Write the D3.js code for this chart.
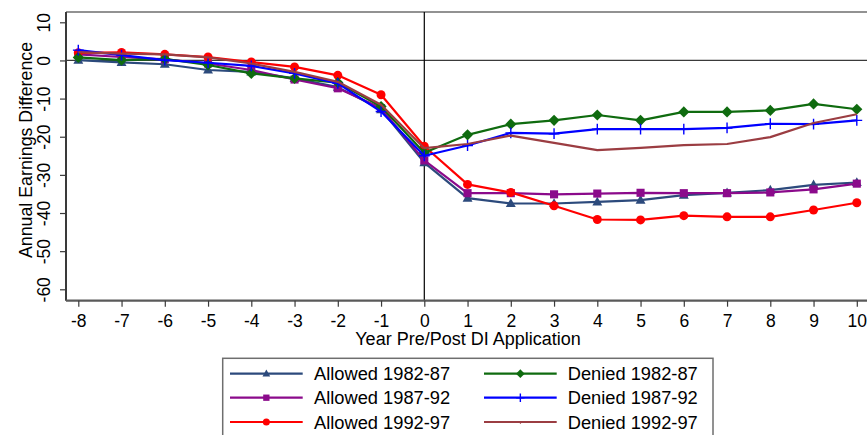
<!DOCTYPE html>
<html>
<head>
<meta charset="utf-8">
<script src="https://cdn.jsdelivr.net/npm/d3@7"></script>
<style>
  body { margin: 0; background: #fff; }
  svg { display: block; font-family: "Liberation Sans", Arial, sans-serif; }
</style>
</head>
<body>
<svg id="chart" width="867" height="435"></svg>
<script>
// ---- Data ----
const years = [-8, -7, -6, -5, -4, -3, -2, -1, 0, 1, 2, 3, 4, 5, 6, 7, 8, 9, 10];
const allowed8287 = [0.1, -0.5, -1.0, -2.5, -3.0, -4.7, -7.0, -12.9, -26.8, -36.1, -37.5, -37.5, -37.1, -36.6, -35.3, -34.7, -34.0, -32.6, -32.0];
const allowed8792 = [1.6, 0.9, 0.3, -0.8, -2.5, -5.0, -7.3, -12.5, -26.2, -34.8, -34.8, -35.1, -34.9, -34.7, -34.8, -34.8, -34.6, -33.8, -32.3];
const allowed9297 = [2.0, 2.1, 1.6, 0.9, -0.4, -1.7, -3.9, -9.0, -22.5, -32.5, -34.6, -38.1, -41.7, -41.8, -40.7, -41.0, -41.0, -39.2, -37.3];
const denied8287 = [0.8, 0.1, 0.4, -1.2, -3.4, -4.7, -5.8, -12.1, -24.2, -19.5, -16.7, -15.7, -14.3, -15.7, -13.5, -13.5, -13.1, -11.4, -12.8];
const denied8792 = [2.7, 1.4, 0.1, -0.6, -1.4, -3.4, -6.0, -13.4, -25.0, -22.3, -19.0, -19.2, -18.0, -18.0, -18.0, -17.7, -16.6, -16.7, -15.7];
const denied9297 = [2.2, 1.8, 1.6, 0.8, -0.8, -3.0, -5.6, -11.6, -23.0, -21.9, -19.7, -21.6, -23.5, -22.9, -22.2, -21.9, -20.1, -16.4, -14.1];
const seriesNames = ["Allowed 1982-87", "Allowed 1987-92", "Allowed 1992-97", "Denied 1982-87", "Denied 1987-92", "Denied 1992-97"];
const xTicks = [-8, -7, -6, -5, -4, -3, -2, -1, 0, 1, 2, 3, 4, 5, 6, 7, 8, 9, 10];
const yTicks = [-60, -50, -40, -30, -20, -10, 0, 10];
const xTitle = "Year Pre/Post DI Application";
const yTitle = "Annual Earnings Difference";

const seriesValues = [allowed8287, allowed8792, allowed9297, denied8287, denied8792, denied9297];
const seriesColors = ["#2c4a7c", "#8b0a8b", "#ff0000", "#0f6b0f", "#0000ff", "#9b3d42"];
const seriesMarkers = ["triangle", "square", "circle", "diamond", "plus", "none"];

// ---- Layout ----
const svg = d3.select("#chart");
const plotL = 66, plotT = 12, plotR = 867, plotB = 300.7;
const x = d3.scaleLinear().domain([-8, 10]).range([78.3, 856.8]);
const y = d3.scaleLinear().domain([-60, 10]).range([289.3, 22.3]);
const fmt = d => String(d);

// frame
svg.append("line").attr("x1", plotL).attr("x2", plotR).attr("y1", plotT).attr("y2", plotT)
  .attr("stroke", "#6e6e6e").attr("stroke-width", 1.5);

// zero line & vertical line at 0
svg.append("line").attr("x1", plotL).attr("x2", plotR).attr("y1", y(0)).attr("y2", y(0))
  .attr("stroke", "#3a3a3a").attr("stroke-width", 1.2);
svg.append("line").attr("x1", x(0)).attr("x2", x(0)).attr("y1", plotT).attr("y2", plotB)
  .attr("stroke", "#000").attr("stroke-width", 1.2);

// axes
const yAxis = d3.axisLeft(y).tickValues(yTicks).tickSize(6).tickPadding(4).tickFormat(fmt);
const gy = svg.append("g").attr("transform", `translate(${plotL},0)`).call(yAxis);
gy.select(".domain").attr("d", `M0,${plotT}V${plotB}`).attr("stroke", "#3a3a3a").attr("stroke-width", 2);
gy.selectAll(".tick line").attr("stroke", "#3a3a3a").attr("stroke-width", 1.2);
gy.selectAll(".tick text")
  .attr("font-size", 17.5).attr("fill", "#000")
  .attr("text-anchor", "middle")
  .attr("x", 0).attr("dy", 0)
  .attr("transform", "translate(-16,0) rotate(-90)")
  .attr("y", 0);

const xAxis = d3.axisBottom(x).tickValues(xTicks).tickSize(6).tickFormat(fmt);
const gx = svg.append("g").attr("transform", `translate(0,${plotB})`).call(xAxis);
gx.select(".domain").attr("d", `M${plotL},0H${plotR}`).attr("stroke", "#5a5a5a").attr("stroke-width", 2.2);
gx.selectAll(".tick line").attr("stroke", "#3a3a3a").attr("stroke-width", 1.2);
gx.selectAll(".tick text").attr("font-size", 17.5).attr("fill", "#000").attr("y", 26).attr("dy", 0);

// axis titles
svg.append("text").attr("x", 468).attr("y", 345).attr("text-anchor", "middle")
  .attr("font-size", 18).text(xTitle);
svg.append("text").attr("transform", "translate(32,150) rotate(-90)").attr("text-anchor", "middle")
  .attr("font-size", 17.8).text(yTitle);

// ---- marker drawing ----
function drawMarker(g, type, cx, cy, color, s) {
  if (type === "triangle") {
    const h = s * 0.95;
    g.append("path").attr("d", `M${cx},${cy - h * 0.62}L${cx + s * 0.55},${cy + h * 0.42}L${cx - s * 0.55},${cy + h * 0.42}Z`).attr("fill", color);
  } else if (type === "square") {
    g.append("rect").attr("x", cx - s * 0.45).attr("y", cy - s * 0.45).attr("width", s * 0.9).attr("height", s * 0.9).attr("fill", color);
  } else if (type === "circle") {
    g.append("circle").attr("cx", cx).attr("cy", cy).attr("r", s * 0.5).attr("fill", color);
  } else if (type === "diamond") {
    const r = s * 0.62;
    g.append("path").attr("d", `M${cx},${cy - r}L${cx + r},${cy}L${cx},${cy + r}L${cx - r},${cy}Z`).attr("fill", color);
  } else if (type === "plus") {
    const r = s * 0.6;
    g.append("path").attr("d", `M${cx - r},${cy}H${cx + r}M${cx},${cy - r}V${cy + r}`).attr("stroke", color).attr("stroke-width", 1.4).attr("fill", "none");
  }
}

// ---- series ----
const line = d3.line().x((d, i) => x(years[i])).y(d => y(d));
const plotG = svg.append("g");
seriesValues.forEach((vals, si) => {
  const g = plotG.append("g");
  g.append("path").datum(vals).attr("d", line).attr("fill", "none")
    .attr("stroke", seriesColors[si]).attr("stroke-width", 2.2).attr("stroke-linejoin", "round");
  vals.forEach((v, i) => drawMarker(g, seriesMarkers[si], x(years[i]), y(v), seriesColors[si], 9));
});

// ---- legend ----
const leg = svg.append("g");
leg.append("rect").attr("x", 222.7).attr("y", 358.3).attr("width", 713 - 222.7).attr("height", 100)
  .attr("fill", "#fff").attr("stroke", "#6e6e6e").attr("stroke-width", 1.5);
const rowY = [373.7, 397.7, 422];
const colLine = [[230, 302.7], [484, 556.7]];
const colText = [314, 567.7];
seriesNames.forEach((name, si) => {
  const col = Math.floor(si / 3), row = si % 3;
  const [x1, x2] = colLine[col];
  const ry = rowY[row];
  leg.append("line").attr("x1", x1).attr("x2", x2).attr("y1", ry).attr("y2", ry)
    .attr("stroke", seriesColors[si]).attr("stroke-width", 2.2);
  if (seriesMarkers[si] !== "none") drawMarker(leg, seriesMarkers[si], (x1 + x2) / 2, ry, seriesColors[si], 7);
  else leg.append("rect").attr("x", (x1 + x2) / 2 - 0.5).attr("y", ry - 0.5).attr("width", 1.2).attr("height", 2.2).attr("fill", seriesColors[si]);
  leg.append("text").attr("x", colText[col]).attr("y", ry + 6.5).attr("font-size", 18.3).attr("fill", "#000").text(name);
});
</script>
</body>
</html>
